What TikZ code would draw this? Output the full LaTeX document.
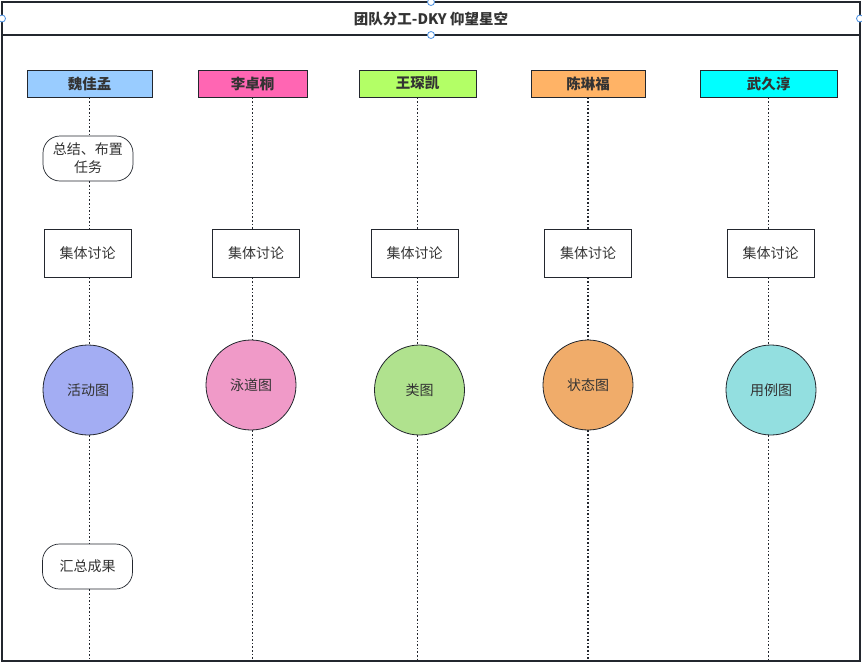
\documentclass[tikz,border=0pt]{standalone}
\usepackage{fontspec}
\setmainfont{Noto Sans CJK SC}
\definecolor{linec}{HTML}{23272E}
\definecolor{textc}{HTML}{333333}
\definecolor{hA}{HTML}{99CCFF}
\definecolor{hB}{HTML}{FF66B3}
\definecolor{hC}{HTML}{B3FF66}
\definecolor{hD}{HTML}{FFB366}
\definecolor{hE}{HTML}{00FFFF}
\definecolor{cA}{HTML}{A3ADF3}
\definecolor{cB}{HTML}{F09AC8}
\definecolor{cC}{HTML}{B0E28E}
\definecolor{cD}{HTML}{F0AC6A}
\definecolor{cE}{HTML}{93DFE0}
\definecolor{handle}{HTML}{4A90E2}
\tikzset{
  hdr/.style={draw=linec, line width=1pt, minimum height=27pt, inner sep=0pt,
    font=\fontsize{14.5}{16}\selectfont\bfseries, text=textc},
  taskbox/.style={draw=linec, line width=0.7pt, fill=white, minimum width=87pt,
    minimum height=48pt, inner sep=0pt, font=\fontsize{14}{18}\selectfont, text=textc},
  stad/.style={draw=linec, line width=0.7pt, fill=white, rounded corners=17pt,
    minimum width=90pt, minimum height=45pt, inner sep=0pt, align=center,
    font=\fontsize{14}{18}\selectfont, text=textc},
  circ/.style={circle, draw=linec, line width=0.8pt, minimum size=90pt, inner sep=0pt,
    font=\fontsize{14}{18}\selectfont, text=textc},
  life/.style={draw=linec, line width=1.6pt, dash pattern=on 1.6pt off 2pt},
  hnd/.style={circle, draw=handle, fill=white, line width=0.8pt, minimum size=7pt, inner sep=0pt}
}
\begin{document}
\begin{tikzpicture}[x=1pt,y=-1pt]
\useasboundingbox (0,0) rectangle (862,665);
% frame
\draw[linec, line width=1.2pt] (2,2) rectangle (860,661);
\draw[linec, line width=2pt] (2,2) -- (860,2);
\draw[linec, line width=1.2pt] (2,35) -- (860,35);
\node[font=\fontsize{14.5}{16}\selectfont\bfseries, text=textc] (title) at (431,18.5) {团队分工-DKY 仰望星空};
% headers
\node[hdr, fill=hA, minimum width=125pt] (h1) at (89.5,83.5) {魏佳孟};
\node[hdr, fill=hB, minimum width=109pt] (h2) at (252.5,83.5) {李卓桐};
\node[hdr, fill=hC, minimum width=117pt] (h3) at (417.5,83.5) {王琛凯};
\node[hdr, fill=hD, minimum width=114pt] (h4) at (588,83.5) {陈琳福};
\node[hdr, fill=hE, minimum width=137pt] (h5) at (768.5,83.5) {武久淳};
% lane 1
\node[stad, text width=86pt] (s1) at (88,158.5) {总结、布置\\任务};
\node[taskbox] (t1) at (87.5,253) {集体讨论};
\node[circ, fill=cA] (c1) at (88,390) {活动图};
\node[stad] (e1) at (87.5,566.5) {汇总成果};
% lane 2
\node[taskbox] (t2) at (256,253) {集体讨论};
\node[circ, fill=cB] (c2) at (251,385) {泳道图};
% lane 3
\node[taskbox] (t3) at (414.5,253) {集体讨论};
\node[circ, fill=cC] (c3) at (419.5,390) {类图};
% lane 4
\node[taskbox] (t4) at (588,253) {集体讨论};
\node[circ, fill=cD] (c4) at (588,385) {状态图};
% lane 5
\node[taskbox] (t5) at (770.5,253) {集体讨论};
\node[circ, fill=cE] (c5) at (771,390) {用例图};
% lifeline bottoms
\coordinate (b1) at (89.5,661);
\coordinate (b2) at (252.5,661);
\coordinate (b3) at (417.5,661);
\coordinate (b4) at (588,661);
\coordinate (b5) at (768.5,661);
% lifelines, vertical at each header's x
\draw[life] (h1.south) -- (h1.south |- s1.north);
\draw[life] (h1.south |- s1.south) -- (h1.south |- t1.north);
\draw[life] (h1.south |- t1.south) -- (h1.south |- c1.north);
\draw[life] (h1.south |- c1.south) -- (h1.south |- e1.north);
\draw[life] (h1.south |- e1.south) -- (b1);
\foreach \i in {2,...,5}{
  \draw[life] (h\i.south) -- (h\i.south |- t\i.north);
  \draw[life] (h\i.south |- t\i.south) -- (h\i.south |- c\i.north);
  \draw[life] (h\i.south |- c\i.south) -- (b\i);
}
% selection handles
\node[hnd] (k1) at (431,2) {};
\node[hnd] (k2) at (431,35) {};
\node[hnd] (k3) at (2,18.5) {};
\node[hnd] (k4) at (860,18.5) {};
\end{tikzpicture}
\end{document}
